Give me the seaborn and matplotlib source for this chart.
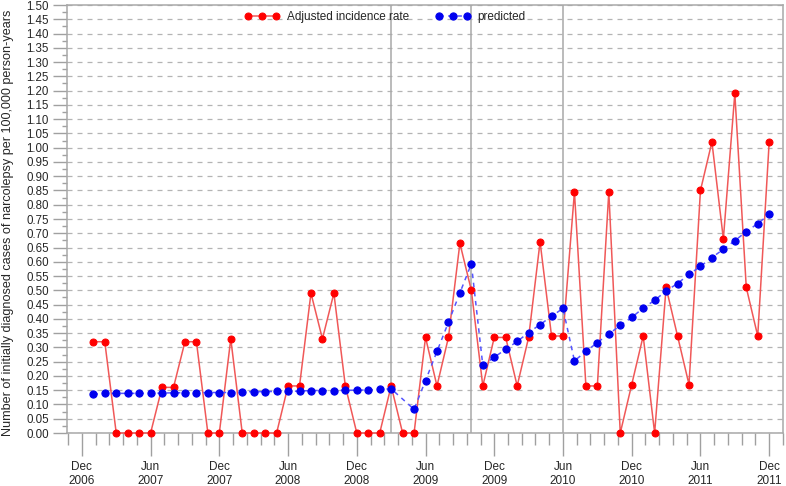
import numpy as np
import pandas as pd
import seaborn as sns
from matplotlib import pyplot as plt
from matplotlib.ticker import FixedLocator, MultipleLocator

# monthly data, Jan 2007 - Dec 2011
months = pd.period_range('2007-01', '2011-12', freq='M')

adjusted = [0.32, 0.32, 0, 0, 0, 0, 0.16, 0.16, 0.32, 0.32, 0, 0,
            0.33, 0, 0, 0, 0, 0.165, 0.165, 0.49, 0.33, 0.49, 0.165, 0,
            0, 0, 0.165, 0, 0, 0.335, 0.165, 0.335, 0.665, 0.50, 0.165, 0.335,
            0.335, 0.165, 0.335, 0.67, 0.34, 0.34, 0.845, 0.165, 0.165, 0.845, 0, 0.17,
            0.34, 0, 0.51, 0.34, 0.17, 0.85, 1.02, 0.68, 1.19, 0.51, 0.34, 1.02]

predicted = [0.136, 0.139, 0.139, 0.139, 0.139, 0.139, 0.140, 0.141, 0.141, 0.141, 0.142, 0.142,
             0.142, 0.145, 0.145, 0.145, 0.146, 0.146, 0.147, 0.149, 0.149, 0.149, 0.150, 0.150,
             0.151, 0.153, 0.155, np.nan, 0.083, 0.184, 0.286, 0.388, 0.491, 0.593, 0.237, 0.266,
             0.293, 0.321, 0.352, 0.380, 0.409, 0.437, 0.253, 0.286, 0.317, 0.347, 0.377, 0.405,
             0.438, 0.465, 0.498, 0.524, 0.556, 0.584, 0.615, 0.644, 0.674, 0.706, 0.734, 0.766]

ref_months = ['2009-03', '2009-10', '2010-06']
tick_labels = ['Dec\n2006', 'Jun\n2007', 'Dec\n2007', 'Jun\n2008', 'Dec\n2008', 'Jun\n2009',
               'Dec\n2009', 'Jun\n2010', 'Dec\n2010', 'Jun\n2011', 'Dec\n2011']

start = pd.Period('2006-12', freq='M')
df = pd.DataFrame({'x': [(m - start).n for m in months],
                   'adjusted': adjusted, 'predicted': predicted})

sns.set_style('white')
plt.rcParams['font.family'] = ['Liberation Sans', 'DejaVu Sans']

fig = plt.figure(figsize=(7.86, 4.86), dpi=100)
ax = fig.add_axes([0.0852, 0.109, 0.9109, 0.8807])

ax.yaxis.grid(True, linestyle=(0, (4, 4)), color='#b4b4b4', lw=0.9)
ax.set_axisbelow(True)

for m in ref_months:
    ax.axvline((pd.Period(m, freq='M') - start).n, color='#a8a8a8', lw=1.1, zorder=1)

sns.lineplot(data=df, x='x', y='adjusted', ax=ax, color='#f05858', lw=1.1,
             marker='o', markersize=5, markerfacecolor='#ff0000', markeredgecolor='#ff0000',
             label='Adjusted incidence rate', clip_on=False, zorder=3)
pdf = df.dropna(subset=['predicted'])
sns.lineplot(data=pdf, x='x', y='predicted', ax=ax, color='#5555ff', lw=1.1,
             linestyle=(0, (3, 3)), marker='o', markersize=5.2,
             markerfacecolor='#0000ee', markeredgecolor='#0000ee',
             label='predicted', clip_on=False, zorder=4)

ax.set_xlim(-1.3, 61.2)
ax.set_ylim(0, 1.5)
ax.xaxis.set_major_locator(FixedLocator(np.arange(0, 61, 6)))
ax.xaxis.set_minor_locator(FixedLocator(np.arange(-1.2, 61.3, 1.2)))
ax.set_xticklabels(tick_labels)
ax.yaxis.set_major_locator(MultipleLocator(0.05))
ax.yaxis.set_minor_locator(MultipleLocator(0.025))
ax.set_yticklabels([f'{v:.2f}' for v in ax.get_yticks()])

ax.tick_params(axis='x', which='major', length=16.5, width=1, color='#a0a0a0', pad=4,
               labelsize=8.5, bottom=True)
ax.tick_params(axis='x', which='minor', length=8.5, width=1, color='#a0a0a0', bottom=True)
ax.tick_params(axis='y', which='major', length=10, width=1, color='#a0a0a0', pad=3,
               labelsize=8.3, left=True)
ax.tick_params(axis='y', which='minor', length=3.6, width=1, color='#a0a0a0', left=True)

for s in ax.spines.values():
    s.set_color('#a8a8a8')
    s.set_linewidth(1.1)

ax.set_xlabel('')
ax.set_ylabel('Number of initially diagnosed cases of narcolepsy per 100,000 person-years',
              fontsize=9.1)
ax.yaxis.set_label_coords(-0.074, 0.49)

ax.legend(loc='center left', bbox_to_anchor=(0.248, 0.972), ncol=2, frameon=False,
          numpoints=3, handlelength=3.0, handletextpad=0.6, columnspacing=2.2,
          borderpad=0, borderaxespad=0, fontsize=8.5)

plt.savefig('out.png', dpi=100)
